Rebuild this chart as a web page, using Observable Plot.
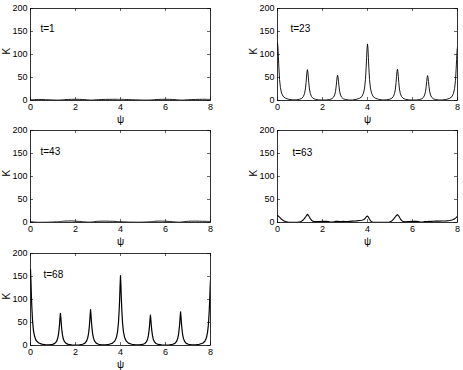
<!DOCTYPE html>
<html><head><meta charset="utf-8">
<script src="https://cdn.jsdelivr.net/npm/d3@7"></script>
<script src="https://cdn.jsdelivr.net/npm/@observablehq/plot@0.6"></script>
<style>
body{margin:0;background:#fff}
#c{position:relative;width:463px;height:370px;background:#fff;overflow:hidden}
.p{position:absolute}
.p svg{overflow:visible}
</style>
</head><body><div id="c"></div>
<script>
const psi = [
 0, 0.02, 0.04, 0.06, 0.09, 0.13, 0.18, 0.25, 0.35, 0.5, 0.67,
 0.83, 0.98, 1.08, 1.15, 1.2, 1.24, 1.27, 1.29, 1.31, 1.33, 1.35, 1.37, 1.39, 1.42, 1.46, 1.51, 1.58, 1.68, 1.83, 2.0,
 2.17, 2.32, 2.42, 2.49, 2.54, 2.58, 2.61, 2.63, 2.65, 2.67, 2.69, 2.71, 2.73, 2.76, 2.8, 2.85, 2.92, 3.02, 3.17, 3.33,
 3.5, 3.65, 3.75, 3.82, 3.87, 3.91, 3.94, 3.96, 3.98, 4.0, 4.02, 4.04, 4.06, 4.09, 4.13, 4.18, 4.25, 4.35, 4.5, 4.67,
 4.83, 4.98, 5.08, 5.15, 5.2, 5.24, 5.27, 5.29, 5.31, 5.33, 5.35, 5.37, 5.39, 5.42, 5.46, 5.51, 5.58, 5.68, 5.83, 6.0,
 6.17, 6.32, 6.42, 6.49, 6.54, 6.58, 6.61, 6.63, 6.65, 6.67, 6.69, 6.71, 6.73, 6.76, 6.8, 6.85, 6.92, 7.02, 7.17, 7.33,
 7.5, 7.65, 7.75, 7.82, 7.87, 7.91, 7.94, 7.96, 7.98, 8.0
];
const k1 = [
 1.5, 1.6, 1.7, 1.8, 1.9, 2, 2.1, 2.2, 2.3, 2.2, 1.8,
 1.5, 1.2, 1, 1, 1, 1, 1.1, 1.1, 1.2, 1.3, 1.3, 1.4, 1.5, 1.6, 1.7, 1.9, 2.1, 2.3, 2.5, 2.6,
 2.5, 2.2, 1.9, 1.7, 1.5, 1.4, 1.3, 1.2, 1.1, 1, 1, 1, 1, 1.1, 1.2, 1.4, 1.6, 1.9, 2.2, 2.4,
 2.5, 2.6, 2.6, 2.6, 2.6, 2.5, 2.5, 2.5, 2.5, 2.5, 2.5, 2.5, 2.5, 2.4, 2.4, 2.3, 2.2, 2, 1.7, 1.4,
 1.2, 1, 1, 1, 1.1, 1.1, 1.2, 1.2, 1.3, 1.3, 1.4, 1.4, 1.5, 1.6, 1.7, 1.9, 2.1, 2.3, 2.5, 2.6,
 2.5, 2.2, 1.9, 1.7, 1.5, 1.4, 1.3, 1.2, 1.1, 1, 1, 1, 1, 1, 1.1, 1.2, 1.4, 1.7, 2, 2.3,
 2.5, 2.6, 2.6, 2.6, 2.5, 2.5, 2.5, 2.4, 2.4, 2.4
];
const k23 = [
 125, 116, 95, 73, 46, 28, 16, 9, 5, 2.5, 1.5,
 1.3, 2.7, 4.7, 8.7, 15, 25, 39, 51, 62, 67, 62, 51, 39, 25, 15, 8.7, 4.7, 2.7, 1.3, 1.0,
 1.1, 2.2, 3.9, 7.2, 12, 20, 32, 42, 51, 55, 51, 42, 32, 20, 12, 7.2, 3.9, 2.2, 1.1, 1.0,
 2.5, 4.9, 8.6, 16, 27, 46, 71, 93, 114, 123, 114, 93, 71, 46, 27, 16, 8.6, 4.9, 2.5, 1.2,
 1.4, 2.7, 4.8, 8.8, 15, 25, 39, 52, 63, 68, 63, 52, 39, 25, 15, 8.8, 4.8, 2.7, 1.4, 1.0,
 1.1, 2.2, 3.8, 7, 12, 20, 31, 41, 50, 54, 50, 41, 31, 20, 12, 7, 3.8, 2.2, 1.1, 1.2,
 2.3, 4.7, 8.2, 15, 26, 43, 68, 89, 109, 117
];
const k43 = [
 2, 1.9, 1.8, 1.7, 1.5, 1.3, 1, 0.7, 0.5, 0.5, 0.6,
 0.8, 1, 1.3, 1.5, 1.6, 1.7, 1.8, 1.9, 2, 2.1, 2.2, 2.3, 2.4, 2.6, 2.8, 3, 3.2, 3.3, 3.4, 3,
 2.3, 1.6, 1.2, 1, 0.9, 0.8, 0.8, 0.8, 0.8, 0.9, 1, 1.1, 1.2, 1.4, 1.7, 2, 2.4, 2.7, 2.9, 3,
 2.8, 2.6, 2.4, 2.2, 2.1, 2, 2, 2, 2, 2, 2, 2, 1.9, 1.8, 1.6, 1.4, 1.2, 1, 0.8, 0.7,
 0.7, 0.8, 1, 1.2, 1.3, 1.4, 1.5, 1.6, 1.7, 1.8, 1.9, 2, 2.1, 2.2, 2.4, 2.6, 2.8, 3, 3, 2.8,
 2.3, 1.6, 1.2, 1, 0.9, 0.8, 0.8, 0.8, 0.8, 0.9, 1, 1.1, 1.3, 1.5, 1.8, 2.1, 2.4, 2.7, 2.9, 3,
 2.8, 2.7, 2.6, 2.5, 2.5, 2.4, 2.4, 2.4, 2.4, 2.4
];
const k63 = [
 15, 14.5, 14, 13, 11.5, 9.5, 7, 4.5, 2, 0.5, 0.3,
 0.3, 0.8, 3, 6, 9, 11.5, 13.5, 15, 16.5, 18, 17, 15.5, 14, 11.5, 8.5, 5, 2.5, 2, 2.3, 2.8,
 2.5, 1.5, 1, 1.5, 2, 2.5, 2.5, 2.5, 2.5, 2.5, 2.5, 2.5, 2.3, 2, 2, 2.3, 2.5, 2.3, 2.5, 3,
 3.5, 4.5, 5, 6, 7.5, 10, 12, 13, 13.5, 14, 13, 11.5, 10, 7, 4, 1.5, 0.5, 0.3, 0.3, 0.3,
 0.5, 1, 3.5, 7, 10, 12.5, 14.5, 15.5, 16.5, 17, 16, 15, 14, 11.5, 8, 4.5, 2, 1.5, 2, 2.5,
 2.5, 1.5, 1, 1.5, 2, 2, 2, 2, 2, 2, 2.3, 2.5, 2.5, 2.5, 2.3, 2.5, 2.8, 3, 3, 3.2,
 3.5, 4.5, 5.5, 6.5, 8, 9.5, 10.5, 11.5, 12.5, 13
];
const k68 = [
 165, 140, 107, 83, 54, 33, 20, 11, 6, 3, 1.5,
 1.3, 2.5, 4.6, 8.4, 14, 23, 35, 46, 60, 70, 60, 46, 35, 23, 14, 8.4, 4.6, 2.5, 1.3, 1,
 1.4, 2.7, 5.1, 9.4, 16, 26, 39, 51, 66, 78, 66, 51, 39, 26, 16, 9.4, 5.1, 2.7, 1.4, 1.2,
 2.7, 5.3, 10, 18, 30, 50, 76, 99, 129, 152, 129, 99, 76, 50, 30, 18, 10, 5.3, 2.7, 1.5,
 1.2, 2.3, 4.3, 7.9, 13, 22, 33, 43, 56, 66, 56, 43, 33, 22, 13, 7.9, 4.3, 2.3, 1.2, 1,
 1.3, 2.6, 4.7, 8.8, 15, 24, 37, 47, 62, 73, 62, 47, 37, 24, 15, 8.8, 4.7, 2.6, 1.3, 1.3,
 2.6, 5, 9.3, 17, 29, 47, 72, 93, 122, 143
];
const labels = ["t=1", "t=23", "t=43", "t=63", "t=68"];
const series = [k1, k23, k43, k63, k68];
const xTicks = [0, 2, 4, 6, 8];
const yTicks = [0, 50, 100, 150, 200];

const layout = [
  {left: 0,   top: 0,   col: 0, dx: 10, dy: 16, sw: 0.9},
  {left: 231, top: 0,   col: 1, dx: 13, dy: 16, sw: 0.9},
  {left: 0,   top: 122, col: 0, dx: 10, dy: 17, sw: 0.9},
  {left: 231, top: 122, col: 1, dx: 15, dy: 18, sw: 1.1},
  {left: 0,   top: 245, col: 0, dx: 13, dy: 17, sw: 1.2}
];
const c = document.getElementById("c");
series.forEach((k, i) => {
  const L = layout[i];
  const data = psi.map((x, j) => ({psi: x, K: k[j]}));
  const w = L.col === 0 ? 231 : 232;
  const ml = L.col === 0 ? 30 : 46;
  const mr = L.col === 0 ? 21 : 6;
  const ph = 92, pw = w - ml - mr;
  const svg = Plot.plot({
    width: w, height: 123,
    marginLeft: ml, marginRight: mr, marginTop: 8, marginBottom: 23,
    style: {fontFamily: "'Liberation Sans', Arial, sans-serif", fontSize: "9px", background: "transparent", color: "black", overflow: "visible"},
    x: {domain: [0, 8]},
    y: {domain: [0, 200]},
    marks: [
      Plot.line(data, {x: "psi", y: "K", stroke: "black", strokeWidth: L.sw, clip: true}),
      Plot.tickX(xTicks, {x: d => d, stroke: "black", strokeWidth: 0.6, insetTop: ph - 3}),
      Plot.tickX(xTicks, {x: d => d, stroke: "black", strokeWidth: 0.6, insetBottom: ph - 3}),
      Plot.tickY(yTicks, {y: d => d, stroke: "black", strokeWidth: 0.6, insetRight: pw - 3}),
      Plot.tickY(yTicks, {y: d => d, stroke: "black", strokeWidth: 0.6, insetLeft: pw - 3}),
      Plot.frame({stroke: "black", strokeWidth: 0.8}),
      Plot.axisX(xTicks, {tickSize: 0, tickPadding: 3, label: null, fontSize: 9}),
      Plot.axisY(yTicks, {tickSize: 0, tickPadding: 3, label: null, fontSize: 9}),
      Plot.text(["ψ"], {frameAnchor: "bottom", dy: 19, lineAnchor: "middle", fontSize: 10, fill: "black"}),
      Plot.text(["K"], {frameAnchor: "left", dx: -24, rotate: -90, fontSize: 10, fill: "black"}),
      Plot.text([labels[i]], {frameAnchor: "top-left", dx: L.dx, dy: L.dy, textAnchor: "start", fontSize: 10, fill: "black"})
    ]
  });
  const d = document.createElement("div");
  d.className = "p";
  d.style.left = L.left + "px";
  d.style.top = L.top + "px";
  d.appendChild(svg);
  c.appendChild(d);
});
</script>
</body></html>
